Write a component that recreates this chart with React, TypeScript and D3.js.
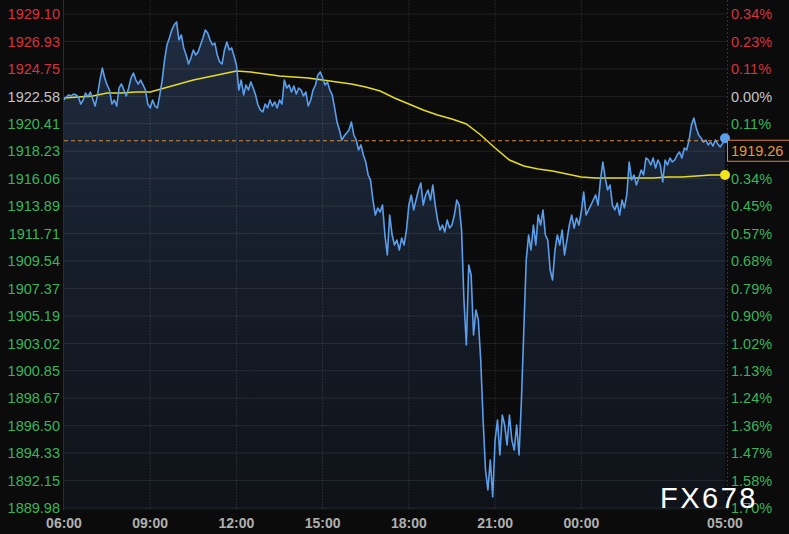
import React from "react";
import * as d3 from "d3";

const W = 789;
const H = 534;

const basePrice = 1922.58;
const lastPriceLabel = "1919.26";
const stepMinutes = 5;
const avgStepMinutes = 30;
const sessionStart = new Date(2020, 0, 1, 6, 0);

const priceValues = [
  // 06:00 - 09:00
  1922.29, 1922.53, 1922.69, 1922.61, 1922.76, 1922.69, 1922.53, 1921.97, 1922.29, 1922.84,
  1922.53, 1922.92, 1922.37, 1921.81, 1922.69, 1923.87, 1924.82, 1924.03, 1923.48, 1923.08,
  1921.97, 1922.29, 1921.81, 1923.24, 1923.56, 1923.08, 1922.61, 1923.24, 1924.03, 1924.43,
  1923.87, 1923.56, 1923.87, 1923.48, 1923.08, 1921.97, 1921.66,
  // 09:05 - 12:00
  1922.29, 1921.81, 1921.66, 1922.69, 1923.87, 1925.46, 1926.65, 1927.20, 1927.83, 1928.23,
  1928.47, 1927.04, 1927.44, 1926.41, 1925.85, 1925.14, 1925.62, 1926.25, 1925.85, 1926.09,
  1926.65, 1927.20, 1927.83, 1927.60, 1927.04, 1926.65, 1926.80, 1925.85, 1925.30, 1925.14,
  1926.25, 1926.88, 1926.25, 1926.41, 1925.77, 1925.06,
  // 12:05 - 15:00
  1923.08, 1923.87, 1922.69, 1923.48, 1923.08, 1923.72, 1923.24, 1922.69, 1921.89, 1921.50,
  1921.34, 1921.97, 1921.66, 1922.29, 1921.81, 1922.13, 1921.66, 1922.29, 1921.97, 1923.87,
  1923.24, 1923.48, 1922.92, 1923.40, 1922.76, 1923.24, 1923.08, 1922.61, 1922.92, 1921.81,
  1922.29, 1923.08, 1923.48, 1924.27, 1924.51, 1924.03,
  // 15:05 - 18:00
  1923.48, 1923.72, 1923.08, 1922.69, 1921.66, 1920.55, 1919.91, 1919.12, 1919.44, 1919.68,
  1919.91, 1920.55, 1919.52, 1919.12, 1918.33, 1918.73, 1917.93, 1917.38, 1916.35, 1915.95,
  1914.37, 1913.18, 1913.74, 1913.42, 1913.97, 1911.60, 1910.02, 1913.18, 1911.60, 1910.81,
  1911.20, 1910.41, 1911.36, 1910.81, 1911.99, 1913.97,
  // 18:05 - 21:00
  1914.77, 1913.58, 1914.37, 1915.16, 1915.72, 1913.97, 1914.77, 1915.16, 1914.37, 1915.56,
  1913.97, 1912.79, 1911.99, 1912.39, 1911.84, 1912.79, 1912.15, 1912.39, 1913.18, 1914.37,
  1913.97, 1911.99, 1906.45, 1902.89, 1909.22, 1908.43, 1903.68, 1905.66, 1904.87, 1901.70,
  1896.95, 1892.99, 1891.41, 1893.78, 1890.85, 1895.36,
  // 21:05 - 00:00
  1896.95, 1894.18, 1897.34, 1896.55, 1894.97, 1897.34, 1895.36, 1894.57, 1896.55, 1894.18,
  1898.53, 1904.08, 1909.62, 1911.60, 1910.41, 1912.39, 1910.81, 1913.18, 1912.39, 1913.58,
  1911.60, 1911.20, 1908.83, 1908.04, 1910.41, 1911.60, 1910.81, 1911.99, 1910.02, 1911.20,
  1912.39, 1913.18, 1912.15, 1912.95, 1912.39, 1913.42,
  // 00:05 - 05:00
  1915.00, 1913.18, 1913.58, 1913.97, 1914.37, 1914.77, 1913.97, 1915.95, 1917.38, 1916.11,
  1915.16, 1915.56, 1913.97, 1913.58, 1914.13, 1913.18, 1914.37, 1913.74, 1914.77, 1917.38,
  1915.95, 1916.35, 1915.56, 1916.11, 1916.75, 1916.35, 1917.70, 1917.54, 1917.14, 1917.70,
  1916.90, 1917.54, 1917.14, 1915.80, 1917.54, 1917.14, 1917.70, 1917.38, 1917.54, 1917.93,
  1918.17, 1917.70, 1918.49, 1918.33, 1919.12, 1920.31, 1920.86, 1920.07, 1919.52, 1919.28,
  1918.96, 1919.12, 1918.73, 1918.96, 1918.65, 1919.12, 1918.81, 1918.57, 1918.88, 1919.26,
];

const avgValues = [
  1922.45, 1922.53, 1922.61, 1922.84, 1922.84, 1922.92, 1922.92, 1923.24, 1923.56, 1923.87,
  1924.11, 1924.35, 1924.59, 1924.51, 1924.35, 1924.19, 1924.11, 1924.03, 1923.87, 1923.72,
  1923.56, 1923.32, 1923.00, 1922.45, 1921.97, 1921.50, 1921.10, 1920.79, 1920.39, 1919.52,
  1918.49, 1917.54, 1917.06, 1916.83, 1916.67, 1916.43, 1916.19, 1916.11, 1916.11, 1916.11,
  1916.11, 1916.11, 1916.19, 1916.19, 1916.27, 1916.35, 1916.35,
];

const yTickValues = [
  1929.1, 1926.93, 1924.75, 1922.58, 1920.41, 1918.23, 1916.06, 1913.89, 1911.71, 1909.54,
  1907.37, 1905.19, 1903.02, 1900.85, 1898.67, 1896.5, 1894.33, 1892.15, 1889.98,
];
const yTickLabels = [
  "1929.10", "1926.93", "1924.75", "1922.58", "1920.41", "1918.23", "1916.06", "1913.89",
  "1911.71", "1909.54", "1907.37", "1905.19", "1903.02", "1900.85", "1898.67", "1896.50",
  "1894.33", "1892.15", "1889.98",
];
const xTickOffsetsHours = [0, 3, 6, 9, 12, 15, 18, 23];
const xTickLabels = ["06:00", "09:00", "12:00", "15:00", "18:00", "21:00", "00:00", "05:00"];

const FONT = "Arial, 'Liberation Sans', sans-serif";
const RED = "#d8323e";
const GREEN = "#3bb35c";
const GRAY = "#c4c4c4";

export default function App() {
  const left = 64;
  const right = 725;
  const plotTop = 0;
  const plotBottom = 510;

  const endTime = d3.timeHour.offset(sessionStart, 23);
  const x = d3.scaleTime().domain([sessionStart, endTime]).range([left, right]);
  const y = d3.scaleLinear().domain([1889.98, 1929.1]).range([508, 14]);

  const pricePts = priceValues.map((v, i) => ({
    t: d3.timeMinute.offset(sessionStart, i * stepMinutes),
    v,
  }));
  const avgPts = avgValues.map((v, i) => ({
    t: d3.timeMinute.offset(sessionStart, i * avgStepMinutes),
    v,
  }));

  const line = d3
    .line<{ t: Date; v: number }>()
    .x((d) => x(d.t))
    .y((d) => y(d.v));
  const area = d3
    .area<{ t: Date; v: number }>()
    .x((d) => x(d.t))
    .y0(plotBottom)
    .y1((d) => y(d.v));

  const last = pricePts[pricePts.length - 1];
  const lastAvg = avgPts[avgPts.length - 1];
  const yLast = y(last.v);
  const boxTop = yLast + 2;
  const boxH = 21;

  const colorFor = (v: number) =>
    Math.abs(v - basePrice) < 1e-6 ? GRAY : v > basePrice ? RED : GREEN;
  const pctFor = (v: number) =>
    (Math.abs(v - basePrice) / basePrice * 100).toFixed(2) + "%";
  // right-hand % label hidden behind the last-price box (as in the reference)
  const hiddenByBox = (v: number) => y(v) > boxTop && y(v) < boxTop + boxH;

  return (
    <svg
      width={W}
      height={H}
      style={{ position: "absolute", left: 0, top: 0, display: "block" }}
      fontFamily={FONT}
    >
      <defs>
        <linearGradient id="areaGrad" gradientUnits="userSpaceOnUse" x1="0" y1="20" x2="0" y2={plotBottom}>
          <stop offset="0%" stopColor="#1f2c40" />
          <stop offset="55%" stopColor="#151c28" />
          <stop offset="100%" stopColor="#0f1218" />
        </linearGradient>
      </defs>
      <rect x={0} y={0} width={W} height={H} fill="#0b0b0b" />

      <path d={area(pricePts) || ""} fill="url(#areaGrad)" />

      {yTickValues.map((v, i) => (
        <line
          key={"hg" + i}
          x1={left}
          x2={right + 2}
          y1={y(v)}
          y2={y(v)}
          stroke="#ffffff"
          strokeOpacity={0.09}
          strokeWidth={1}
        />
      ))}
      {xTickOffsetsHours.slice(1, -1).map((h, i) => {
        const xx = x(d3.timeHour.offset(sessionStart, h));
        return (
          <line
            key={"vg" + i}
            x1={xx}
            x2={xx}
            y1={plotTop}
            y2={plotBottom}
            stroke="#ffffff"
            strokeOpacity={0.1}
            strokeDasharray="2,1"
          />
        );
      })}
      <line x1={left - 0.5} x2={left - 0.5} y1={plotTop} y2={plotBottom} stroke="#2c2c2c" />
      <line x1={right + 2.5} x2={right + 2.5} y1={plotTop} y2={plotBottom} stroke="#333" strokeDasharray="2,2" />

      <path d={line(avgPts) || ""} fill="none" stroke="#e6dc1e" strokeWidth={1.5} />
      <path d={line(pricePts) || ""} fill="none" stroke="#5b9fec" strokeWidth={1.6} strokeLinejoin="round" />

      <line
        x1={left}
        x2={right}
        y1={yLast + 2.5}
        y2={yLast + 2.5}
        stroke="#d98c3e"
        strokeWidth={1}
        strokeDasharray="4,3"
      />

      <circle cx={x(last.t)} cy={yLast} r={5} fill="#5b9fec" />
      <circle cx={x(lastAvg.t)} cy={y(lastAvg.v)} r={5} fill="#f2e31a" />

      {yTickValues.map((v, i) => (
        <text
          key={"yl" + i}
          x={60}
          y={y(v)}
          dy="0.36em"
          textAnchor="end"
          fontSize={14.5}
          fill={colorFor(v)}
        >
          {yTickLabels[i]}
        </text>
      ))}
      {yTickValues.map((v, i) =>
        hiddenByBox(v) ? null : (
          <text
            key={"yr" + i}
            x={731}
            y={y(v)}
            dy="0.36em"
            textAnchor="start"
            fontSize={14.5}
            fill={colorFor(v)}
          >
            {pctFor(v)}
          </text>
        )
      )}

      {xTickOffsetsHours.map((h, i) => (
        <text
          key={"xl" + i}
          x={x(d3.timeHour.offset(sessionStart, h))}
          y={528}
          textAnchor="middle"
          fontSize={14}
          fontWeight="bold"
          fill="#b0b0b0"
        >
          {xTickLabels[i]}
        </text>
      ))}

      <rect x={727.5} y={boxTop} width={64} height={boxH} fill="#0b0b0b" stroke="#d7853a" strokeWidth={1} />
      <text x={731} y={boxTop + boxH / 2} dy="0.36em" fontSize={14.5} fill="#e8963c">
        {lastPriceLabel}
      </text>

      <text x={660} y={508} fontSize={29} fill="#ffffff" letterSpacing={2.5}>
        FX678
      </text>
    </svg>
  );
}
